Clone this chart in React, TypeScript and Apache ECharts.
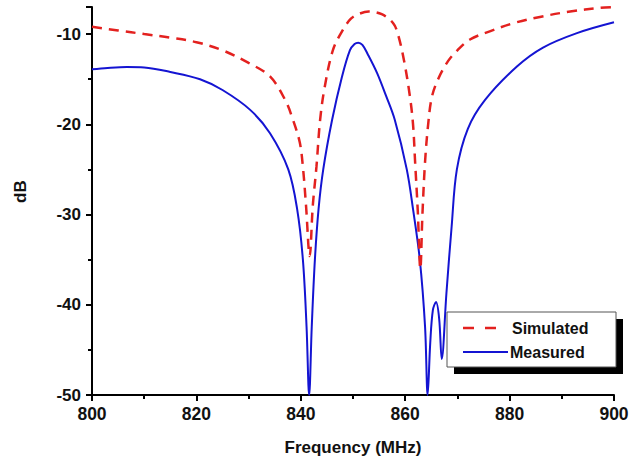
import React, { useEffect, useRef } from "react";
import * as echarts from "echarts";

const simFreq = [800, 805, 810, 815, 820, 825, 830, 834.1, 837.0, 838.5, 839.8, 840.4, 841.0, 841.7, 842.3, 843.0, 843.7, 844.6, 846.2, 848.1, 849.6, 851, 853, 855.5, 857.7, 858.6, 859.8, 860.9, 861.5, 861.9, 862.4, 862.9, 863.3, 863.8, 864.4, 865.1, 866.3, 868.2, 870.0, 872.4, 876.2, 880.7, 885.8, 891.6, 897.3, 900];
const simDb = [-9.2, -9.6, -10.0, -10.4, -10.9, -11.8, -13.2, -14.7, -17.3, -19.5, -22.0, -24.7, -29.0, -34.6, -29.0, -24.7, -19.5, -15.8, -11.7, -9.5, -8.3, -7.8, -7.5, -7.8, -8.8, -10.0, -13.0, -16.9, -20.0, -24.2, -29.5, -36.0, -30.0, -24.2, -20.0, -17.0, -15.0, -13.0, -11.8, -10.6, -9.7, -8.8, -8.1, -7.5, -7.1, -7.0];

const measFreq = [800, 803, 806.7, 810, 815, 820.7, 825, 830.3, 834.1, 837.6, 839.3, 840.4, 841.1, 841.6, 842.1, 842.7, 843.4, 844.3, 846.0, 847.9, 849.4, 850.3, 851.0, 851.8, 852.8, 854.6, 856.3, 858.0, 860.3, 861.5, 862.8, 863.8, 864.3, 864.8, 865.3, 865.9, 866.5, 867.0, 867.9, 868.9, 869.9, 872.0, 875.3, 881.4, 886.4, 892.9, 900];
const measDb = [-13.9, -13.75, -13.65, -13.7, -14.2, -15.0, -16.2, -18.4, -21.0, -25.0, -29.4, -35.0, -42.4, -50.0, -42.4, -35.0, -29.4, -25.0, -19.5, -14.7, -11.8, -11.1, -10.95, -11.2, -12.2, -14.3, -16.8, -19.5, -25.0, -29.4, -35.0, -42.4, -50.0, -44.2, -40.6, -39.7, -41.5, -46.0, -38.7, -31.3, -25.0, -20.5, -17.3, -13.6, -11.5, -9.9, -8.7];

const seriesNames = ["Simulated", "Measured"];
const xTicks = { min: 800, max: 900, interval: 20 };
const yTicks = { min: -50, max: -7, interval: 10 };

const FONT = "'Liberation Sans', Arial, sans-serif";
const RED = "#e3211f";
const BLUE = "#1414d2";

export default function App() {
  const ref = useRef<HTMLDivElement>(null);
  useEffect(() => {
    if (!ref.current) return;
    const chart = echarts.init(ref.current, null, { renderer: "svg" });
    const simData = simFreq.map((f, i) => [f, simDb[i]]);
    const measData = measFreq.map((f, i) => [f, measDb[i]]);
    const axisCommon = {
      axisLine: { show: true, lineStyle: { color: "#000", width: 2 } },
      axisTick: { show: true, inside: false, length: 6, lineStyle: { color: "#000", width: 2 } },
      minorTick: { show: true, splitNumber: 2, length: 4, lineStyle: { color: "#000", width: 2 } },
      splitLine: { show: false },
    };
    chart.setOption({
      animation: false,
      backgroundColor: "#fff",
      grid: { left: 92, right: 26, top: 7, bottom: 65, containLabel: false },
      xAxis: {
        type: "value",
        min: xTicks.min,
        max: xTicks.max,
        interval: xTicks.interval,
        ...axisCommon,
        axisLabel: { color: "#111", fontSize: 17.5, fontWeight: "bold", fontFamily: FONT, margin: 10 },
        name: "Frequency (MHz)",
        nameLocation: "middle",
        nameGap: 44,
        nameTextStyle: { color: "#111", fontSize: 17, fontWeight: "bold", fontFamily: FONT },
      },
      yAxis: {
        type: "value",
        min: yTicks.min,
        max: yTicks.max,
        interval: yTicks.interval,
        ...axisCommon,
        axisLabel: {
          color: "#111",
          fontSize: 17,
          fontWeight: "bold",
          fontFamily: FONT,
          margin: 11,
          showMaxLabel: false,
        },
      },
      series: [
        {
          name: seriesNames[0],
          type: "line",
          data: simData,
          showSymbol: false,
          smooth: 0.35,
          lineStyle: { color: RED, width: 2.5, type: [10, 7] },
          itemStyle: { color: RED },
          z: 3,
        },
        {
          name: seriesNames[1],
          type: "line",
          data: measData,
          showSymbol: false,
          smooth: 0.35,
          lineStyle: { color: BLUE, width: 2 },
          itemStyle: { color: BLUE },
          z: 2,
        },
      ],
      graphic: [
        {
          type: "text",
          rotation: Math.PI / 2,
          style: { text: "dB", fill: "#111", font: `bold 17px ${FONT}` },
          x: 12,
          y: 203,
        },
        {
          type: "rect",
          shape: { x: 454, y: 319, width: 169, height: 55 },
          style: { fill: "#000" },
          z: 10,
        },
        {
          type: "rect",
          shape: { x: 447, y: 312, width: 169, height: 55 },
          style: { fill: "#fff", stroke: "#555", lineWidth: 1 },
          z: 11,
        },
        {
          type: "line",
          shape: { x1: 463, y1: 328, x2: 499, y2: 328 },
          style: { stroke: RED, lineWidth: 2.5, lineDash: [11, 11] },
          z: 12,
        },
        {
          type: "line",
          shape: { x1: 463, y1: 352, x2: 508, y2: 352 },
          style: { stroke: BLUE, lineWidth: 2 },
          z: 12,
        },
        {
          type: "text",
          x: 512,
          y: 328,
          style: { text: seriesNames[0], fill: "#111", font: `bold 16px ${FONT}`, verticalAlign: "middle" },
          z: 12,
        },
        {
          type: "text",
          x: 510,
          y: 352,
          style: { text: seriesNames[1], fill: "#111", font: `bold 16px ${FONT}`, verticalAlign: "middle" },
          z: 12,
        },
      ],
    });
    return () => chart.dispose();
  }, []);
  return <div ref={ref} style={{ width: 640, height: 461, position: "absolute", left: 0, top: 0 }} />;
}
